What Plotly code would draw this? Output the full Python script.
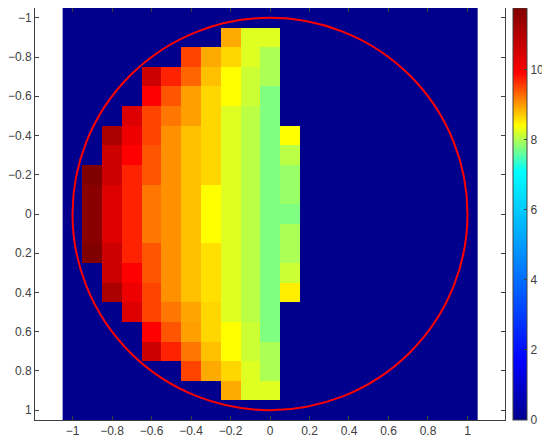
import numpy as np
import plotly.graph_objects as go

# cell values, one list per column (rows y = -0.9 ... 0.9), 0 = outside
col_m09 = [0, 0, 0, 0, 0, 0, 0, 11.75, 11.6, 11.6, 11.6, 11.75, 0, 0, 0, 0, 0, 0, 0]
col_m08 = [0, 0, 0, 0, 0, 11.13, 10.64, 10.64, 10.4, 10.4, 10.4, 10.64, 10.64, 11.13, 0, 0, 0, 0, 0]
col_m07 = [0, 0, 0, 0, 10.4, 10.15, 9.9, 9.7, 9.7, 9.7, 9.7, 9.7, 9.9, 10.15, 10.4, 0, 0, 0, 0]
col_m06 = [0, 0, 10.64, 9.9, 9.5, 9.5, 9.4, 9.4, 9.2, 9.2, 9.2, 9.4, 9.4, 9.5, 9.5, 9.9, 10.64, 0, 0]
col_m05 = [0, 0, 9.7, 9.4, 9.2, 9.05, 9.05, 9.05, 9.05, 9.05, 9.05, 9.05, 9.05, 9.05, 9.2, 9.4, 9.7, 0, 0]
col_m04 = [0, 9.5, 9.3, 8.96, 8.96, 8.77, 8.77, 8.77, 8.77, 8.77, 8.77, 8.77, 8.77, 8.77, 8.93, 8.96, 9.2, 9.5, 0]
col_m03 = [0, 8.9, 8.77, 8.64, 8.64, 8.64, 8.64, 8.64, 8.4, 8.4, 8.4, 8.58, 8.58, 8.58, 8.64, 8.64, 8.77, 8.9, 0]
col_m02 = [8.9, 8.64, 8.4, 8.4, 8.23, 8.23, 8.23, 8.23, 8.23, 8.23, 8.23, 8.23, 8.23, 8.23, 8.23, 8.4, 8.4, 8.64, 8.9]
col_m01 = [8.23, 8.23, 8.14, 8.14, 8.05, 8.05, 8.05, 8.05, 8.05, 8.05, 8.05, 8.05, 8.05, 8.05, 8.05, 8.14, 8.14, 8.23, 8.23]
col_000 = [8.23, 7.97, 7.97, 7.75, 7.75, 7.75, 7.75, 7.75, 7.75, 7.75, 7.75, 7.75, 7.75, 7.75, 7.75, 7.75, 7.97, 7.97, 8.23]
col_p01 = [0, 0, 0, 0, 0, 8.4, 8.05, 7.88, 7.88, 7.75, 7.97, 7.97, 8.14, 8.5, 0, 0, 0, 0, 0]

columns = [col_m09, col_m08, col_m07, col_m06, col_m05, col_m04,
           col_m03, col_m02, col_m01, col_000, col_p01]

ticks = [-1, -0.8, -0.6, -0.4, -0.2, 0, 0.2, 0.4, 0.6, 0.8, 1]
cbar_ticks = [0, 2, 4, 6, 8, 10]

# 21 x 21 grid, centres -1 ... 1 step 0.1
z = np.zeros((21, 21))
for i, col in enumerate(columns):
    z[1:20, 1 + i] = col

zmax = 11.75
scale = [
    [0.0, "#00008c"],
    [1.7 / zmax, "#0000ff"],
    [7.1 / zmax, "#00ffff"],
    [7.75 / zmax, "#80ff80"],
    [8.4 / zmax, "#ffff00"],
    [9.9 / zmax, "#ff0000"],
    [1.0, "#800000"],
]

font = dict(family="Liberation Sans, Arial, sans-serif", size=12, color="#404040")

fig = go.Figure()
fig.add_trace(go.Heatmap(
    z=z, x0=-1, dx=0.1, y0=-1, dy=0.1,
    zmin=0, zmax=zmax, colorscale=scale,
    colorbar=dict(
        x=1.017, xanchor="left", xpad=0, ypad=0,
        y=0.5, yanchor="middle", len=1, lenmode="fraction",
        thickness=14, thicknessmode="pixels",
        outlinewidth=1, outlinecolor="#404040",
        tickvals=cbar_ticks, ticks="inside", ticklen=3, tickcolor="#404040",
        tickfont=font,
    ),
))

fig.add_shape(type="circle", xref="x", yref="y", x0=-1, y0=-1, x1=1, y1=1,
              line=dict(color="#ff0000", width=2))

axis = dict(showgrid=False, zeroline=False, showline=True, linecolor="#404040",
            linewidth=1, mirror="ticks", ticks="inside", ticklen=4,
            tickcolor="#404040", tickvals=ticks, tickfont=font, automargin=False)

# page body has an 8px margin, so the figure is drawn 8px smaller
fig.update_layout(
    width=542, height=438,
    margin=dict(l=27, r=45, t=0, b=26, autoexpand=False),
    paper_bgcolor="white", plot_bgcolor="white",
    xaxis=dict(range=[-1.19, 1.19], **axis),
    yaxis=dict(range=[1.05, -1.05], **axis),
    font=font,
)

fig.write_html("out.html")
